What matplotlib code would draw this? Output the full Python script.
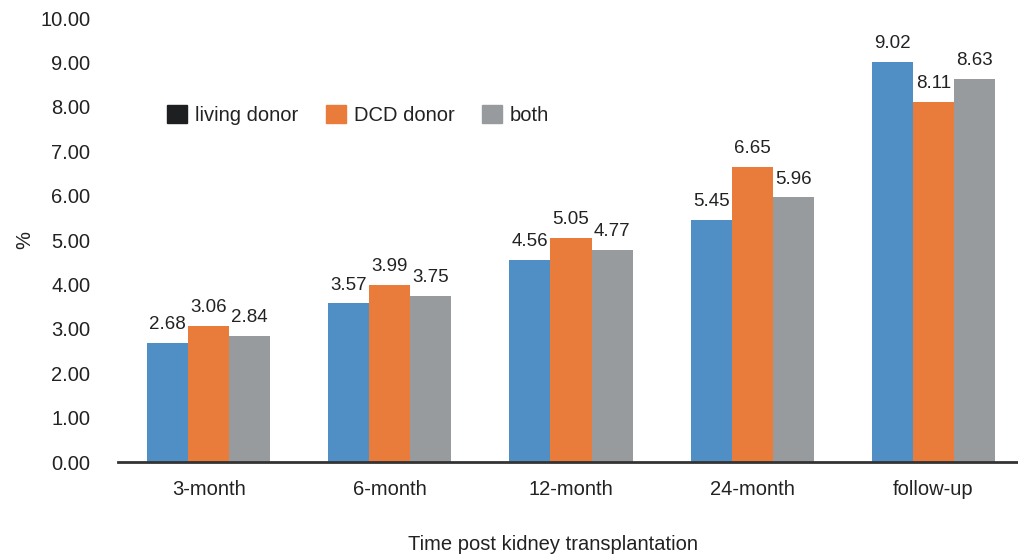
import matplotlib
matplotlib.use("Agg")
import matplotlib.pyplot as plt
from matplotlib.patches import Patch
import numpy as np

plt.rcParams["font.family"] = ["Liberation Sans", "DejaVu Sans"]

categories = ["3-month", "6-month", "12-month", "24-month", "follow-up"]
living_donor = [2.68, 3.57, 4.56, 5.45, 9.02]
dcd_donor = [3.06, 3.99, 5.05, 6.65, 8.11]
both = [2.84, 3.75, 4.77, 5.96, 8.63]
y_ticks = [0, 1, 2, 3, 4, 5, 6, 7, 8, 9, 10]

blue = "#4f8fc6"
orange = "#e97c3b"
gray = "#989b9e"
text_color = "#222222"
fs = 14.5

W, H = 1018, 556
fig = plt.figure(figsize=(W / 100, H / 100), dpi=100)
left, right, top, bottom = 118, 1024, 18, 462
ax = fig.add_axes([left / W, 1 - bottom / H, (right - left) / W, (bottom - top) / H])

x = np.arange(len(categories))
bw = 0.227
series = [(living_donor, blue), (dcd_donor, orange), (both, gray)]
for i, (vals, col) in enumerate(series):
    pos = x + (i - 1) * bw
    ax.bar(pos, vals, width=bw, color=col, zorder=2)
    for p, v in zip(pos, vals):
        ax.annotate(f"{v:.2f}", (p, v), xytext=(0, 7), textcoords="offset points",
                    ha="center", va="bottom", fontsize=13.5, color=text_color)

ax.set_xlim(-0.5, 4.5)
ax.set_ylim(0, 10)
ax.set_yticks(y_ticks)
ax.set_yticklabels([f"{t:.2f}" for t in y_ticks], fontsize=fs, color=text_color)
ax.set_xticks(x)
ax.set_xticklabels(categories, fontsize=fs, color=text_color)
ax.tick_params(axis="y", length=0, pad=20)
ax.tick_params(axis="x", length=0, pad=13)

for s in ["top", "right", "left"]:
    ax.spines[s].set_visible(False)
ax.spines["bottom"].set_color("#333333")
ax.spines["bottom"].set_linewidth(2)

fig.text(25 / W, 1 - 240 / H, "%", rotation=90, ha="center", va="center",
         fontsize=fs, color=text_color)
fig.text(553 / W, 1 - 545 / H, "Time post kidney transplantation", ha="center",
         va="center", fontsize=fs, color=text_color)

handles = [Patch(color="#1e1f21"), Patch(color=orange), Patch(color=gray)]
ax.legend(handles, ["living donor", "DCD donor", "both"], loc="center left",
          bbox_to_anchor=(41 / (right - left), 1 - (115 - top) / (bottom - top)),
          ncol=3, frameon=False, fontsize=fs, handlelength=1.0, handleheight=1.0,
          handletextpad=0.4, columnspacing=1.35, borderaxespad=0, labelcolor=text_color)

fig.savefig("out.png", dpi=100)
